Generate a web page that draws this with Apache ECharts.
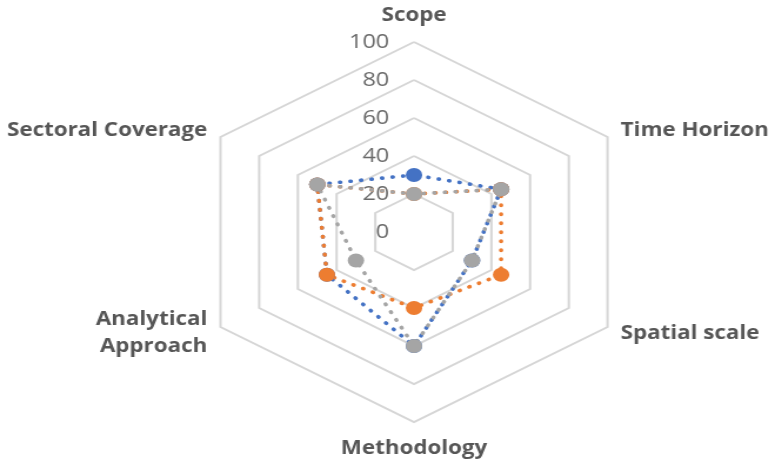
<!DOCTYPE html>
<html>
<head>
<meta charset="utf-8">
<script src="https://cdn.jsdelivr.net/npm/echarts@6/dist/echarts.min.js"></script>
<style>
  html, body { margin: 0; padding: 0; background: #ffffff; overflow: hidden; }
  #wrap { width: 771px; height: 459px; overflow: hidden; position: relative; }
  /* the plot is drawn at a narrower width and widened horizontally */
  #chart { position: absolute; left: 0; top: 0; height: 459px; transform-origin: 0 0; }
</style>
</head>
<body>
<div id="wrap"><div id="chart"></div></div>
<script>
// Axes, listed in the order ECharts places them (counter-clockwise from the top)
const categories = ['Scope', 'Sectoral Coverage', 'Analytical\nApproach', 'Methodology', 'Spatial scale', 'Time Horizon'];
const axisMax = 100;

// Scores per axis, same order as categories
const seriesBlue   = [30, 50, 45, 60, 30, 45];
const seriesOrange = [20, 50, 45, 40, 45, 45];
const seriesGray   = [20, 50, 30, 60, 30, 45];

const stretchX = 1.176;
const W = 771, H = 459;
const el = document.getElementById('chart');
el.style.width = (W / stretchX) + 'px';
el.style.transform = 'scaleX(' + stretchX + ')';

const chart = echarts.init(el, null, { renderer: 'canvas' });

const dotLine = (color) => ({ color: color, width: 3.6, type: [0.5, 8.5], cap: 'round' });

function mkSeries(name, values, color) {
  return {
    type: 'radar',
    name: name,
    symbol: 'circle',
    symbolSize: 14,
    itemStyle: { color: color },
    lineStyle: dotLine(color),
    data: [{ value: values, name: name }]
  };
}

chart.setOption({
  animation: false,
  backgroundColor: '#ffffff',
  radar: {
    center: [414 / stretchX, 232],
    radius: 190,
    startAngle: 90,
    splitNumber: 5,
    shape: 'polygon',
    nameGap: 13,
    axisName: {
      color: '#565656',
      fontFamily: 'Open Sans',
      fontWeight: 'bold',
      fontSize: 19,
      lineHeight: 27
    },
    axisLine: { show: false },
    axisTick: { show: false },
    axisLabel: { show: false },
    splitArea: { show: false },
    splitLine: { lineStyle: { color: '#d6d6d6', width: 2 } },
    indicator: categories.map((c, i) => {
      const ind = { name: c, min: 0, max: axisMax };
      if (i === 0) {
        ind.axisLabel = {
          show: true,
          color: '#6a6a6a',
          fontFamily: 'Open Sans',
          fontSize: 20,
          margin: 21
        };
      }
      return ind;
    })
  },
  series: [
    mkSeries('Series1', seriesBlue, '#4472c4'),
    mkSeries('Series2', seriesOrange, '#ed7d31'),
    mkSeries('Series3', seriesGray, '#a5a5a5')
  ]
});
</script>
</body>
</html>
